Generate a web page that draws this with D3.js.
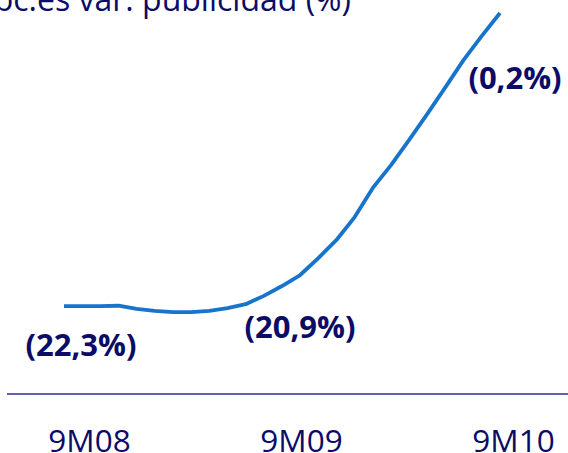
<!DOCTYPE html>
<html>
<head>
<meta charset="utf-8">
<script src="https://cdn.jsdelivr.net/npm/d3@7/dist/d3.min.js"></script>
<style>
  html, body { margin: 0; padding: 0; background: #fff; }
  svg { display: block; }
  text { font-family: "Open Sans", "Noto Sans", sans-serif; }
</style>
</head>
<body>
<svg id="chart" width="568" height="453"></svg>
<script>
// Advertising index, monthly from Sep 2008 to Sep 2010
const months = d3.range(0, 25);
const adIndex = [22.3, 22.3, 22.3, 22.4, 21.6, 21.1, 20.8, 20.8, 21.1, 21.8, 22.8, 24.9,
                 27.4, 30.2, 34.5, 39.1, 44.9, 52.3, 58.1, 64.5, 71.1, 77.9, 84.8, 90.9, 96.7];

// Period labels on the axis
const periods = ["9M08", "9M09", "9M10"];

// Year-on-year change stated for each period, attached to month index
const changeLabels = ["(22,3%)", "(20,9%)", "(0,2%)"];
const changeMonths = [0, 12, 24];

const titleText = "Abc.es var. publicidad (%)";

const navy = "#0b0b68";
const lineBlue = "#1873cb";

const svg = d3.select("#chart");

const x = d3.scaleLinear().domain([0, 24]).range([64, 500]);
const y = d3.scaleLinear().domain([0, 100]).range([394, 0]);

// Title (runs off the left edge)
svg.append("text")
  .attr("x", 351).attr("y", 11)
  .attr("text-anchor", "end")
  .attr("font-size", 32)
  .attr("fill", navy)
  .text(titleText);

// Baseline
svg.append("line")
  .attr("x1", 7).attr("x2", 568)
  .attr("y1", y(0)).attr("y2", y(0))
  .attr("stroke", "#2c2c94")
  .attr("stroke-width", 1.6);

// Period axis
const xp = d3.scalePoint().domain(periods).range([89, 513]);
const axis = svg.append("g")
  .attr("transform", `translate(0,${y(0) + 36})`)
  .call(d3.axisBottom(xp).tickSize(0).tickPadding(0));
axis.select(".domain").remove();
axis.selectAll("text")
  .attr("font-family", "'Open Sans', 'Noto Sans', sans-serif")
  .attr("font-size", 31.5)
  .attr("fill", navy)
  .attr("dy", "0.71em");

// Index line
const line = d3.line()
  .x((d, i) => x(months[i]))
  .y(d => y(d));

svg.append("path")
  .datum(adIndex)
  .attr("d", line)
  .attr("fill", "none")
  .attr("stroke", lineBlue)
  .attr("stroke-width", 3.8)
  .attr("stroke-linejoin", "round");

// Change labels beside the line
const labelOffsets = [[17, 50], [18, 52], [15, 76]];
svg.selectAll("text.chg")
  .data(changeLabels)
  .join("text")
  .attr("class", "chg")
  .attr("x", (d, i) => x(changeMonths[i]) + labelOffsets[i][0])
  .attr("y", (d, i) => y(adIndex[changeMonths[i]]) + labelOffsets[i][1])
  .attr("text-anchor", "middle")
  .attr("font-size", 31)
  .attr("font-weight", "bold")
  .attr("fill", navy)
  .text(d => d);
</script>
</body>
</html>
